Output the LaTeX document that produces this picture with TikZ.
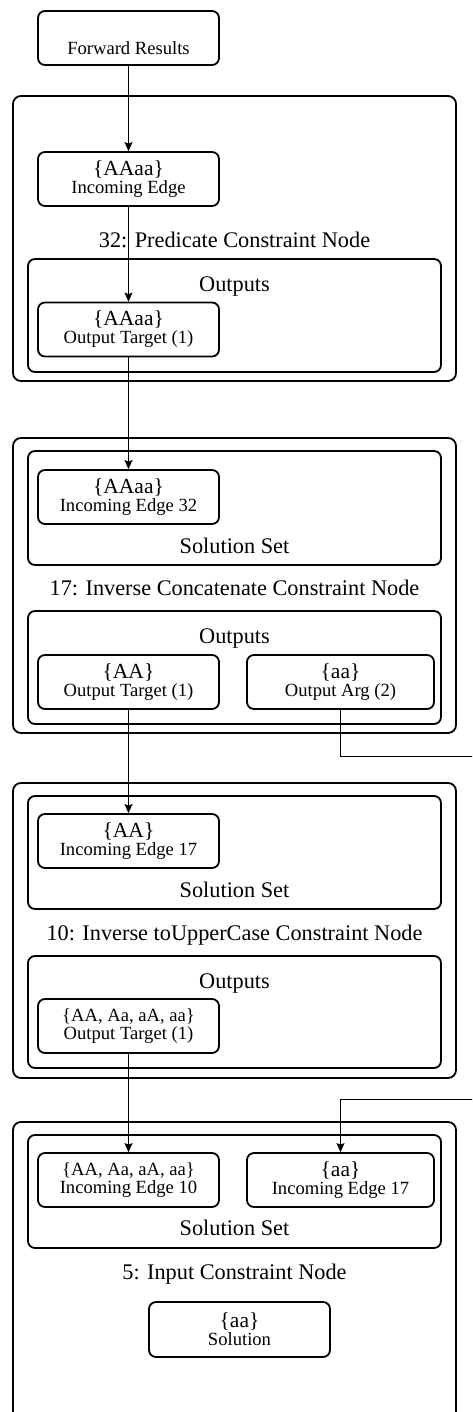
\documentclass[tikz,border=0pt]{standalone}
\usepackage{fontspec}
\setmainfont{Liberation Serif}
\usepackage{tikz}
\usetikzlibrary{arrows.meta,positioning}
\tikzset{>={Stealth[length=9pt,width=8pt,inset=1.5pt]}}
\newcommand{\setsz}{\fontsize{21.5}{18}\selectfont}
\newcommand{\lblsz}{\fontsize{18.6}{18}\selectfont}
\newcommand{\headsz}{\fontsize{22.3}{24}\selectfont}
\newcommand{\sset}[1]{{\setsz\{#1\}}}
\newcommand{\ssetsm}[1]{{\lblsz\{#1\}}}

\begin{document}
\begin{tikzpicture}[x=1pt, y=-1pt,
                    nodeframe/.style={draw, line width=1.8pt, rounded corners=8pt, minimum width=443pt, inner sep=0pt},
                    group/.style={draw, line width=1.8pt, rounded corners=7pt, minimum width=413pt, minimum height=113pt, inner sep=0pt},
                    setbox/.style={draw, line width=1.8pt, rounded corners=7pt, minimum width=181pt, minimum height=54pt, inner sep=0pt, align=center, font=\lblsz},
                    widebox/.style={setbox, minimum width=187pt},
                    heading/.style={anchor=base, font=\headsz, inner sep=0pt},
                    link/.style={->, line width=1pt},
                   ]

\useasboundingbox (0,0) rectangle (472,1412);
\clip (0,0) rectangle (472,1412);

\node[setbox] (fwd) at (128.5,38) {{\setsz\vphantom{\{\}}}\\Forward Results};

% 32
\node[nodeframe, minimum height=285pt] (n32) at (234.5,238.5) {};
\node[setbox] (in32) at (128.5,179) {\sset{AAaa}\\Incoming Edge};
\node[heading] (h32) at (234.5,248) {32: Predicate Constraint Node};
\node[group] (out32) at (234.5,315.5) {};
\node[heading] (o32) at (234.5,291) {Outputs};
\node[setbox] (ot32) at (128.5,329.5) {\sset{AAaa}\\Output Target (1)};

% 17
\node[nodeframe, minimum height=295pt] (n17) at (234.5,585.5) {};
\node[group, minimum height=114pt] (sol17) at (234.5,508) {};
\node[setbox] (ie17) at (128.5,497) {\sset{AAaa}\\Incoming Edge 32};
\node[heading] (s17) at (234.5,553) {Solution Set};
\node[heading] (h17) at (234.5,595) {17: Inverse Concatenate Constraint Node};
\node[group] (out17) at (234.5,667.5) {};
\node[heading] (o17) at (234.5,643) {Outputs};
\node[setbox] (ot17) at (128.5,682) {\sset{AA}\\Output Target (1)};
\node[widebox] (oa17) at (340.5,682) {\sset{aa}\\Output Arg (2)};

% 10
\node[nodeframe, minimum height=295pt] (n10) at (234.5,930.5) {};
\node[group] (sol10) at (234.5,852.5) {};
\node[setbox] (ie10) at (128.5,841) {\sset{AA}\\Incoming Edge 17};
\node[heading] (s10) at (234.5,897) {Solution Set};
\node[heading] (h10) at (234.5,940) {10: Inverse toUpperCase Constraint Node};
\node[group, minimum height=112pt] (out10) at (234.5,1012) {};
\node[heading] (o10) at (234.5,988) {Outputs};
\node[setbox] (ot10) at (128.5,1026) {\ssetsm{AA, Aa, aA, aa}\\Output Target (1)};

% 5
\node[nodeframe, minimum height=318pt] (n5) at (234.5,1281) {};
\node[group] (sol5) at (234.5,1191.5) {};
\node[setbox] (ie5a) at (128.5,1180) {\ssetsm{AA, Aa, aA, aa}\\Incoming Edge 10};
\node[widebox] (ie5b) at (340.5,1180) {\sset{aa}\\Incoming Edge 17};
\node[heading] (s5) at (234.5,1235) {Solution Set};
\node[heading] (h5) at (234.5,1279) {5: Input Constraint Node};
\node[setbox, minimum height=55pt] (sol) at (239.5,1329.5) {\sset{aa}\\Solution};

\draw[link] (fwd) -- (in32);
\draw[link] (in32) -- (ot32);
\draw[link] (ot32) -- (ie17);
\draw[link] (ot17) -- (ie10);
\draw[link] (ot10) -- (ie5a);

% runs out past the right edge
\coordinate (argout) at (500,756);
\coordinate (argin) at (500,1099);
\draw[link] (oa17.south) |- (argout) -- (argin) -| (ie5b.north);

\end{tikzpicture}
\end{document}
